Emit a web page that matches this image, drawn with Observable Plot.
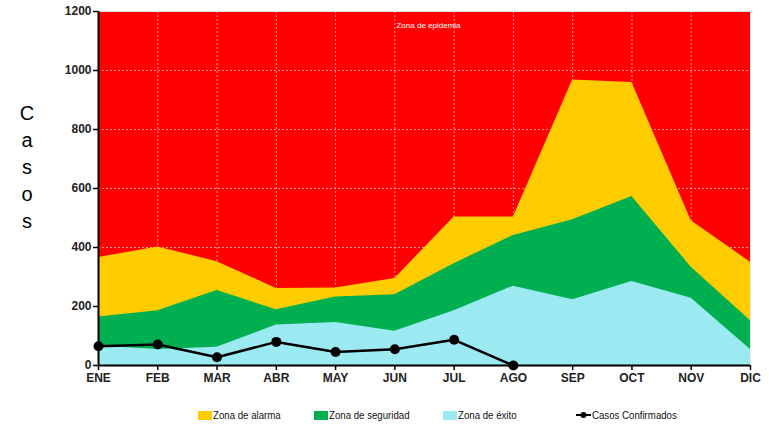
<!DOCTYPE html>
<html>
<head>
<meta charset="utf-8">
<script src="https://cdn.jsdelivr.net/npm/d3@7"></script>
<script src="https://cdn.jsdelivr.net/npm/@observablehq/plot@0.6"></script>
<style>
  body { margin: 0; background: #fff; font-family: "Liberation Sans", Arial, sans-serif; }
  #wrap { position: relative; width: 769px; height: 425px; }
  #ylab { position: absolute; left: 17px; top: 100px; width: 20px; text-align: center; font-family: "Liberation Sans", Arial, sans-serif; font-size: 20px; line-height: 27px; color: #000; }
  #legend { position: absolute; top: 407px; left: 0; width: 769px; height: 16px; font-size: 11.5px; color: #111; }
  .li { position: absolute; display: flex; align-items: center; height: 16px; white-space: nowrap; }
  .sw { display: inline-block; width: 14px; height: 9px; margin-right: 1px; }
  .lt { display: inline-block; transform: scaleX(0.84); transform-origin: left center; }
</style>
</head>
<body>
<div id="wrap">
  <div id="chart"></div>
  <div id="ylab">C<br>a<br>s<br>o<br>s</div>
  <div id="legend"></div>
</div>
<script>
const months = ["ENE","FEB","MAR","ABR","MAY","JUN","JUL","AGO","SEP","OCT","NOV","DIC"];
const alarma = [366, 402, 352, 261, 263, 295, 503, 503, 968, 959, 491, 350];
const seguridad = [164, 186, 254, 189, 232, 240, 345, 441, 494, 573, 333, 152];
const exito = [66, 54, 62, 137, 146, 116, 186, 269, 223, 285, 228, 54];
const casos = [65, 71, 28, 80, 46, 55, 87, 0];
const yTicks = [0, 200, 400, 600, 800, 1000, 1200];

const colors = {alarma: "#ffcc00", seguridad: "#00b050", exito: "#9beaf2", epidemia: "#ff0000"};

const zone = months.map((m, i) => ({i, alarma: alarma[i], seguridad: seguridad[i], exito: exito[i]}));
const conf = casos.map((v, i) => ({i, v}));
const idx = months.map((m, i) => i);

const font = '"Liberation Sans Narrow", "Arial Narrow", "Liberation Sans", sans-serif';

const chart = Plot.plot({
  width: 769,
  height: 395,
  marginLeft: 98,
  marginRight: 19,
  marginTop: 11,
  marginBottom: 30,
  style: {fontFamily: font, fontSize: "12px", fontWeight: "bold", color: "#222", background: "transparent"},
  x: {type: "linear", domain: [0, 11]},
  y: {domain: [0, 1200]},
  marks: [
    Plot.frame({fill: colors.epidemia, stroke: "#ddd", strokeWidth: 1}),
    Plot.ruleX(idx.slice(1), {stroke: "#fff", strokeOpacity: 0.6, strokeDasharray: "2,2", strokeWidth: 1}),
    Plot.ruleY(yTicks.slice(1, -1), {stroke: "#fff", strokeOpacity: 0.6, strokeDasharray: "2,2", strokeWidth: 1}),
    Plot.areaY(zone, {x: "i", y: "alarma", fill: colors.alarma}),
    Plot.areaY(zone, {x: "i", y: "seguridad", fill: colors.seguridad}),
    Plot.areaY(zone, {x: "i", y: "exito", fill: colors.exito}),
    Plot.text(["Zona de epidemia"], {frameAnchor: "top", dx: 4, dy: 11, fill: "#fff", fontSize: 8, fontWeight: "normal"}),
    Plot.axisY({ticks: yTicks, tickFormat: d => String(d), tickSize: 5, tickPadding: 2, stroke: "#000", strokeWidth: 1.5, fontWeight: "bold", fontSize: 12, label: null}),
    Plot.axisX({ticks: idx, tickFormat: i => months[i], tickSize: 5, tickPadding: 3, stroke: "#000", strokeWidth: 1.5, fontWeight: "bold", fontSize: 12, label: null}),
    Plot.ruleX([0], {stroke: "#000", strokeWidth: 2}),
    Plot.ruleY([0], {stroke: "#000", strokeWidth: 2}),
    Plot.line(conf, {x: "i", y: "v", stroke: "#000", strokeWidth: 2.5}),
    Plot.dot(conf, {x: "i", y: "v", r: 5, fill: "#000", stroke: "none"})
  ]
});
document.getElementById("chart").appendChild(chart);

const legendItems = [
  {label: "Zona de alarma", color: colors.alarma, left: 198},
  {label: "Zona de seguridad", color: colors.seguridad, left: 314},
  {label: "Zona de éxito", color: colors.exito, left: 443},
  {label: "Casos Confirmados", color: null, left: 576}
];
const leg = document.getElementById("legend");
for (const it of legendItems) {
  const d = document.createElement("div");
  d.className = "li";
  d.style.left = it.left + "px";
  if (it.color) {
    d.innerHTML = `<span class="sw" style="background:${it.color}"></span><span class="lt">${it.label}</span>`;
  } else {
    d.innerHTML = `<svg width="15" height="10" style="margin-right:1px"><line x1="0" y1="5" x2="15" y2="5" stroke="#000" stroke-width="2"/><circle cx="7.5" cy="5" r="3" fill="#000"/></svg><span class="lt">${it.label}</span>`;
  }
  leg.appendChild(d);
}
</script>
</body>
</html>
